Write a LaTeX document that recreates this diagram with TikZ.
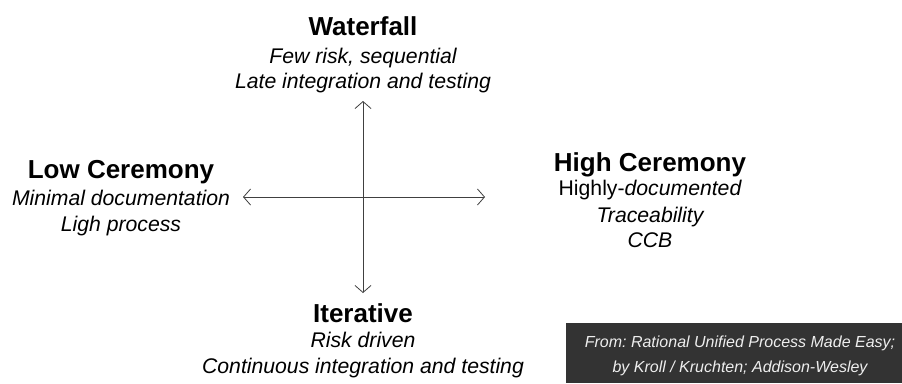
\documentclass[tikz,border=0pt]{standalone}
\usepackage{fontspec}
\setmainfont{Liberation Sans}
\usetikzlibrary{arrows.meta}
\definecolor{notebg}{HTML}{333333}
\definecolor{notefg}{HTML}{EEEEEE}
\frenchspacing
\begin{document}
\begin{tikzpicture}[x=1pt,y=-1pt,
  title/.style={anchor=base,inner sep=0pt,font=\fontsize{26}{30}\selectfont\bfseries},
  item/.style={anchor=base,inner sep=0pt,font=\fontsize{21.2}{24}\selectfont\itshape},
  axis/.style={draw=black!75,line width=0.9pt,
    {Straight Barb[length=7pt,width=16pt,line width=0.8pt]}-{Straight Barb[length=7pt,width=16pt,line width=0.8pt]}},
  note/.style={anchor=base,inner sep=0pt,text=notefg,font=\fontsize{16}{18}\selectfont\itshape\frenchspacing}]
\useasboundingbox (0,0) rectangle (902,383);
\fill[white] (0,0) rectangle (902,383);

% axes
\coordinate (top) at (363,101);
\coordinate (bottom) at (363,293);
\coordinate (left) at (243,197);
\coordinate (right) at (485,197);
\draw[axis] (top) -- (bottom);
\draw[axis] (left) -- (right);

% waterfall (top)
\node[title] (wf) at (363,35) {Waterfall};
\node[item] (wf1) at (363,63) {Few risk, sequential};
\node[item] (wf2) at (363,88) {Late integration and testing};

% low ceremony (left)
\node[title] (lc) at (121,178) {Low Ceremony};
\node[item] (lc1) at (121,205) {Minimal documentation};
\node[item] (lc2) at (121,231) {Ligh process};

% high ceremony (right)
\node[title] (hc) at (650,171) {High Ceremony};
\node[item] (hc1) at (650,195) {\upshape Highly-\itshape documented};
\node[item] (hc2) at (650,222) {Traceability};
\node[item] (hc3) at (650,247) {CCB};

% iterative (bottom)
\node[title] (it) at (363,322) {Iterative};
\node[item] (it1) at (363,347) {Risk driven};
\node[item] (it2) at (363,373) {Continuous integration and testing};

% source note
\fill[notebg] (566,323) rectangle (902,383);
\node[note] (src1) at (740,347) {From: Rational Unified Process Made Easy;};
\node[note] (src2) at (740,372) {by Kroll / Kruchten; Addison-Wesley};
\end{tikzpicture}
\end{document}
